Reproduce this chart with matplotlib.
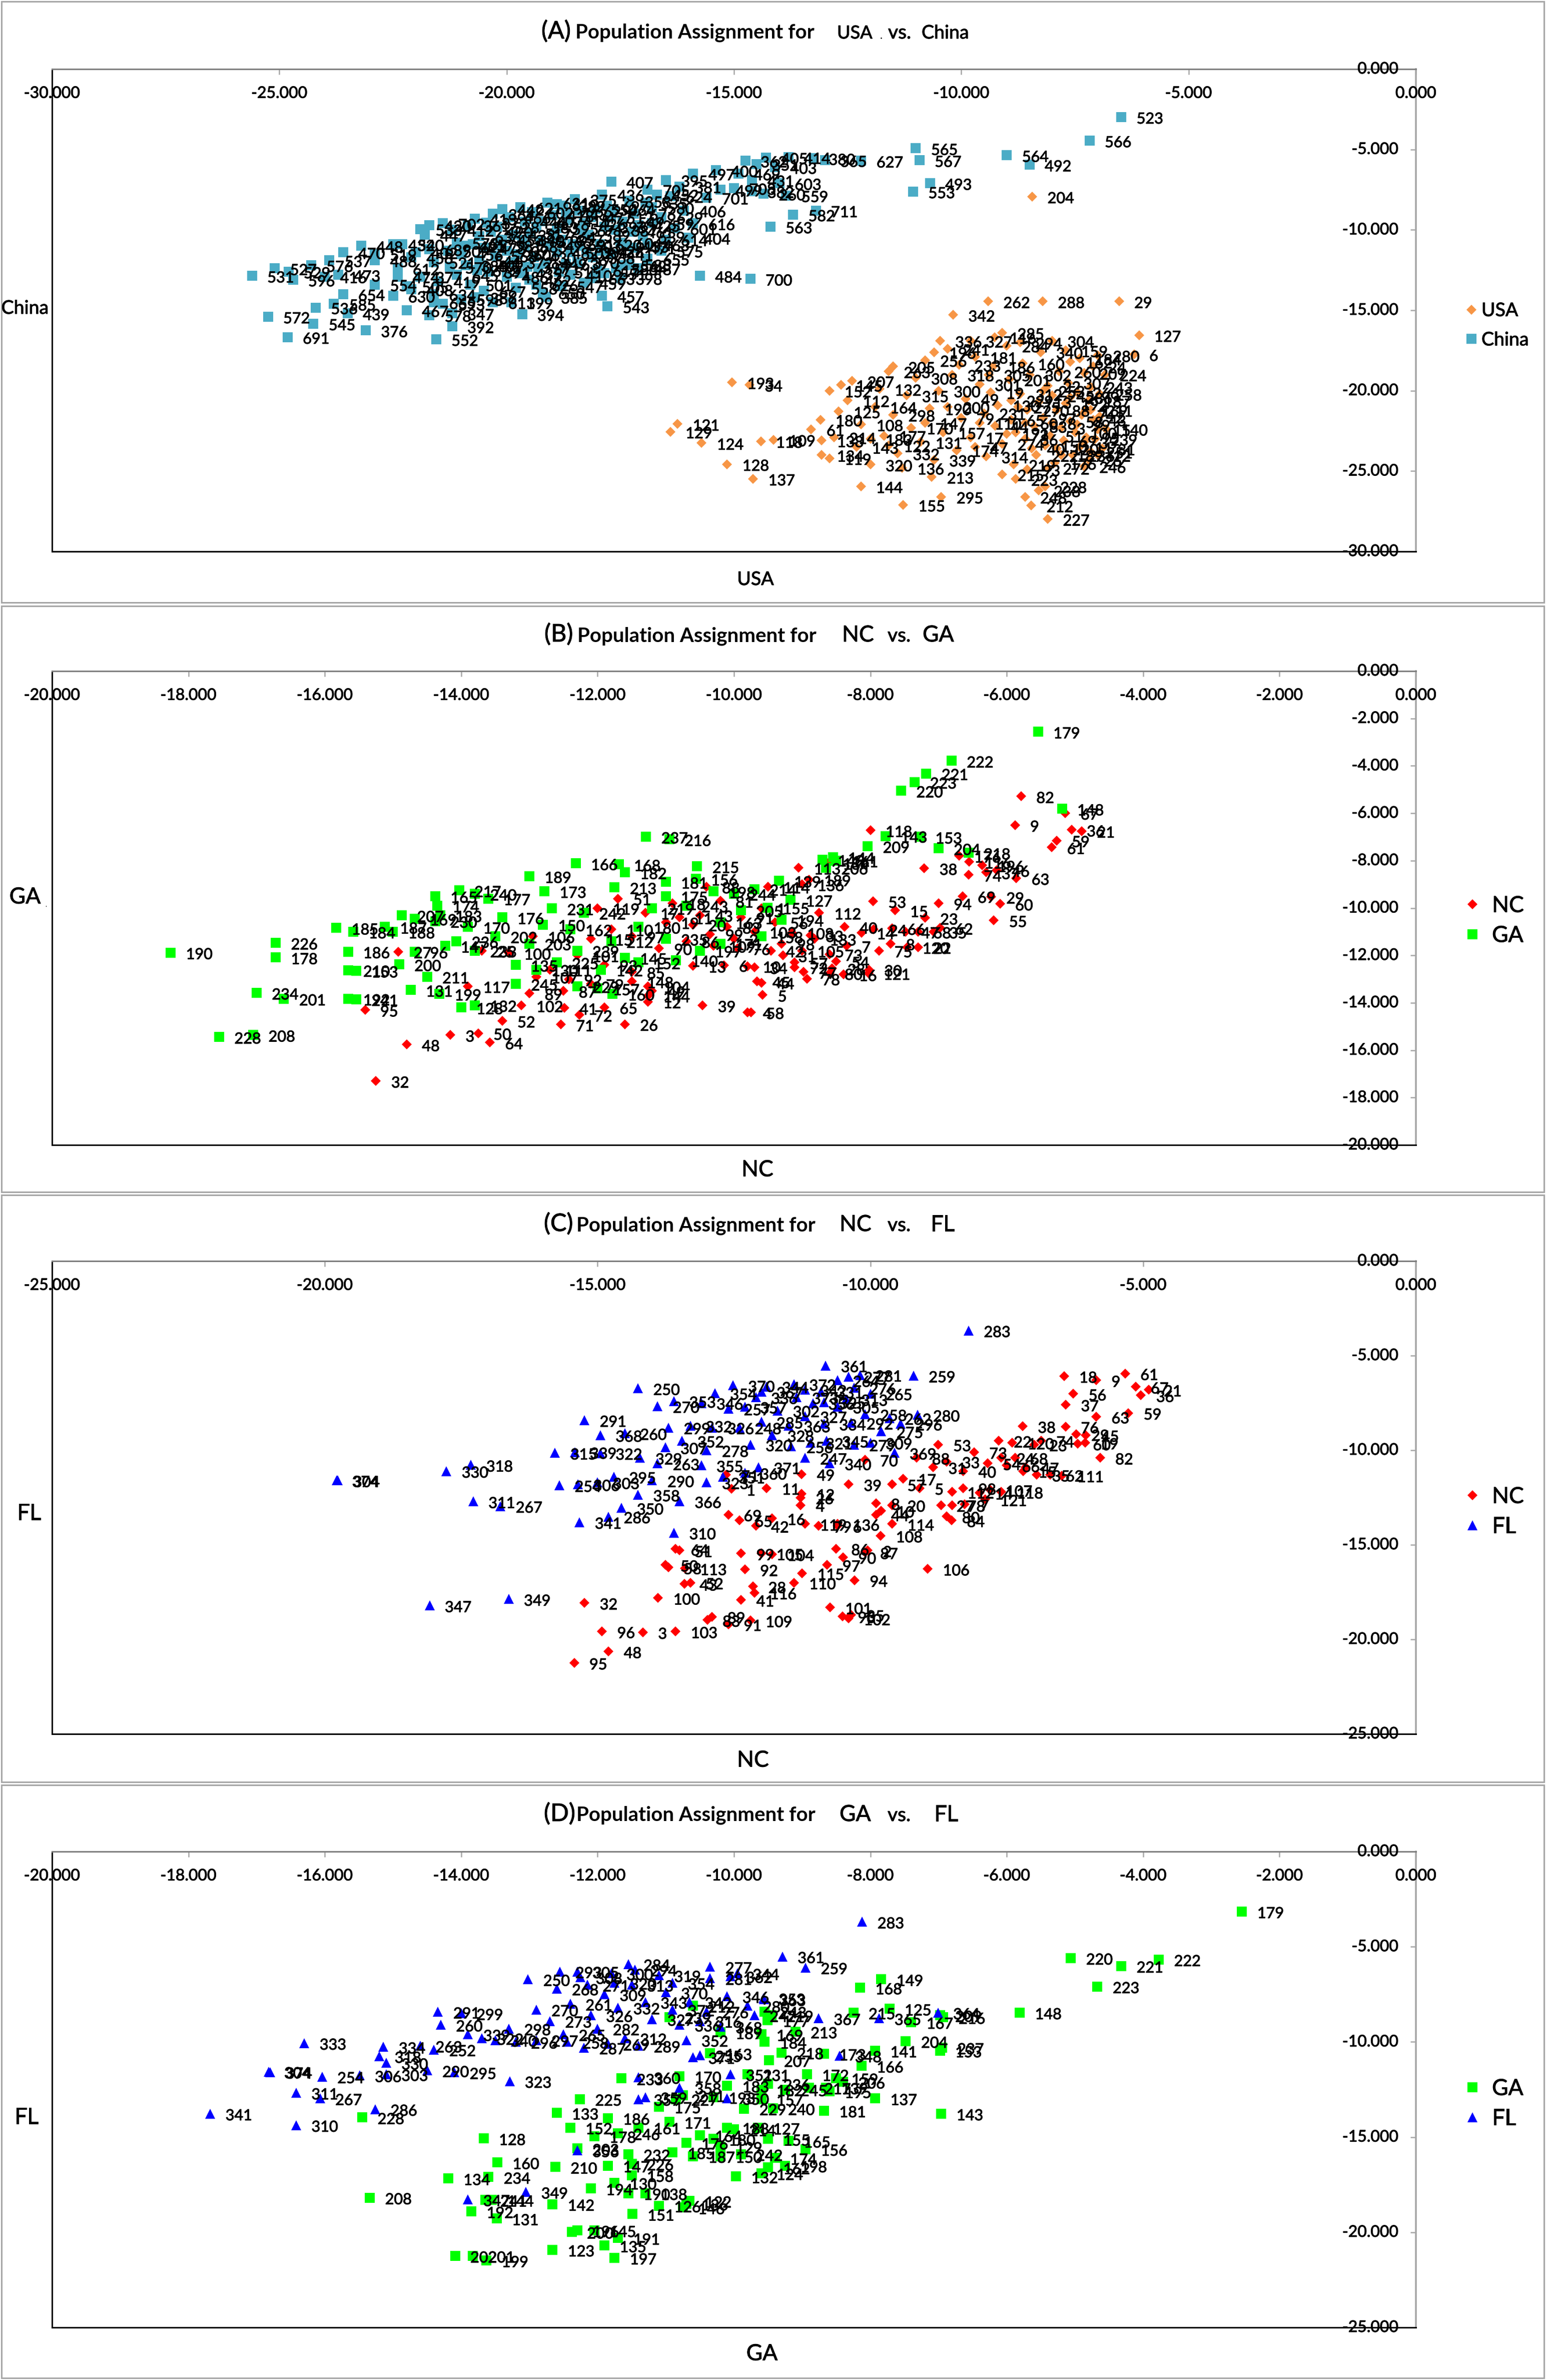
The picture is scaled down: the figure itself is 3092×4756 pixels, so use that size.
import numpy as np
import matplotlib
matplotlib.use('Agg')
import matplotlib.pyplot as plt
import matplotlib.patheffects as pe
from matplotlib.patches import Rectangle

W, H = 3092, 4756
plt.rcParams['font.family'] = ['Lato', 'DejaVu Sans']

# ---------------- data (x, y, sample id) ----------------
# (A) USA vs. China
usa_a = [
    (-8.44, -7.93, '204'), (-9.41, -14.45, '262'), (-8.21, -14.45, '288'), (-6.53, -14.45, '29'),
    (-10.18, -15.29, '342'), (-6.09, -16.55, '127'), (-6.2, -17.74, '6'), (-9.27, -16.67, '116'),
    (-10.47, -16.9, '336'), (-7.0, -17.8, '280'), (-7.4, -18.0, '184'), (-7.1, -18.5, '24'),
    (-7.15, -19.76, '243'), (-7.26, -21.19, '169'), (-6.82, -22.38, '140'), (-7.15, -23.8, '251'),
    (-7.3, -24.7, '246'), (-15.04, -19.48, '193'), (-14.66, -19.64, '34'), (-16.24, -22.07, '121'),
    (-16.4, -22.55, '129'), (-15.71, -23.26, '124'), (-15.15, -24.57, '128'), (-14.58, -25.48, '137'),
    (-14.41, -23.14, '118'), (-14.13, -23.05, '109'), (-13.07, -23.1, '138'), (-13.07, -24.0, '134'),
    (-12.9, -24.2, '119'), (-12.21, -25.95, '144'), (-11.28, -27.1, '155'), (-10.44, -26.6, '295'),
    (-10.65, -25.36, '213'), (-8.1, -27.98, '227'), (-8.46, -27.14, '212'), (-8.6, -26.6, '248'),
    (-8.16, -25.95, '228'), (-8.3, -26.2, '238'), (-12.65, -19.64, '145'), (-11.5, -18.5, '205'),
    (-13.3, -22.4, '61'), (-13.1, -21.8, '180'), (-12.8, -22.9, '214'), (-12.7, -21.3, '125'),
    (-12.5, -20.6, '112'), (-12.9, -20.0, '152'), (-12.4, -19.4, '207'), (-12.2, -22.1, '108'),
    (-12.3, -23.5, '143'), (-12.0, -24.6, '320'), (-11.9, -21.0, '164'), (-11.8, -19.9, '132'),
    (-11.7, -22.8, '177'), (-11.6, -18.8, '263'), (-11.5, -21.5, '298'), (-11.4, -23.9, '332'),
    (-11.3, -24.8, '136'), (-11.2, -20.3, '315'), (-11.1, -22.3, '170'), (-11.0, -19.2, '308'),
    (-10.9, -23.2, '131'), (-10.8, -18.1, '256'), (-10.7, -21.1, '190'), (-10.6, -24.3, '339'),
    (-10.5, -20.0, '300'), (-10.4, -22.6, '157'), (-10.3, -17.4, '241'), (-10.2, -19.0, '318'),
    (-10.1, -23.7, '174'), (-10.0, -21.7, '79'), (-10.05, -18.4, '233'),
    (-9.9, -20.5, '49'), (-9.8, -22.9, '17'), (-9.7, -17.9, '181'), (-9.6, -19.6, '301'),
    (-9.5, -21.4, '231'), (-9.45, -24.1, '314'), (-9.3, -18.5, '186'), (-9.25, -22.2, '44'),
    (-9.2, -20.9, '130'), (-9.1, -23.3, '274'), (-9.0, -17.2, '284'), (-8.95, -19.3, '201'),
    (-8.9, -21.8, '65'), (-8.85, -24.6, '219'), (-8.8, -22.6, '91'), (-8.7, -20.2, '312'),
    (-8.65, -18.3, '160'), (-8.6, -23.0, '36'), (-8.55, -21.2, '270'), (-8.5, -19.0, '302'),
    (-8.4, -22.2, '83'), (-8.35, -24.0, '222'), (-8.3, -20.7, '13'), (-8.25, -17.6, '340'),
    (-8.2, -21.7, '97'), (-8.15, -23.4, '150'), (-8.1, -19.7, '22'), (-8.05, -22.8, '51'),
    (-8.0, -20.3, '245'), (-7.95, -24.5, '176'), (-7.9, -21.2, '88'), (-7.85, -18.8, '260'),
    (-7.8, -22.3, '3'), (-7.75, -23.1, '69'), (-7.7, -20.8, '192'), (-7.65, -19.5, '307'),
    (-7.6, -21.9, '58'), (-7.55, -24.0, '236'), (-7.5, -22.6, '100'), (-7.45, -20.1, '266'),
    (-7.4, -23.5, '11'), (-7.35, -21.5, '74'), (-7.3, -18.9, '209'), (-7.25, -22.9, '95'),
    (-7.2, -20.6, '187'), (-7.1, -21.8, '43'), (-7.05, -23.0, '239'), (-7.0, -22.4, '15'),
    (-6.95, -20.2, '258'), (-6.9, -23.6, '81'), (-6.85, -19.0, '224'), (-7.6, -18.2, '162'),
    (-8.7, -17.0, '294'), (-9.1, -16.4, '285'), (-9.8, -16.9, '327'), (-10.6, -17.6, '196'),
    (-8.0, -16.9, '304'), (-7.7, -17.5, '159'), (-9.1, -25.2, '215'), (-8.8, -25.5, '223'),
    (-8.55, -24.9, '93'),
    (-9.35, -20.1, '19'), (-9.0, -22.7, '172'), (-8.75, -21.0, '275'), (-8.45, -23.6, '40'),
    (-8.2, -20.0, '253'), (-8.0, -22.0, '8'), (-7.8, -24.0, '189'), (-7.6, -20.4, '286'),
    (-7.45, -22.1, '99'), (-7.3, -23.2, '35'), (-7.15, -21.2, '211'), (-6.95, -21.6, '2'),
    (-7.9, -23.6, '120'), (-8.6, -22.0, '60'), (-8.9, -20.6, '229'), (-9.6, -22.0, '110'),
    (-9.7, -23.5, '47'), (-10.3, -21.0, '200'), (-10.8, -22.0, '147'), (-11.6, -23.4, '122'),
    (-12.0, -23.0, '183'), (-7.2, -24.3, '26'), (-7.0, -24.0, '12'), (-8.1, -24.8, '272'),
    (-9.4, -19.0, '305'),
]
china_a = [
    (-6.48, -2.98, '523'), (-7.18, -4.45, '566'), (-11.0, -4.93, '565'), (-10.92, -5.67, '567'),
    (-9.0, -5.36, '564'), (-8.5, -5.95, '492'), (-10.69, -7.1, '493'), (-11.06, -7.62, '553'),
    (-12.2, -5.71, '627'), (-13.0, -5.67, '365'), (-13.25, -5.55, '380'), (-13.8, -5.48, '414'),
    (-14.3, -5.5, '405'), (-14.1, -6.1, '403'), (-14.0, -7.1, '603'), (-13.85, -7.86, '559'),
    (-13.7, -9.05, '582'), (-13.2, -8.8, '711'), (-14.2, -9.8, '563'), (-14.64, -13.05, '700'),
    (-15.75, -12.86, '484'),
    (-14.75, -5.7, '362'), (-14.5, -5.9, '351'), (-15.4, -6.3, '400'), (-14.9, -6.5, '469'),
    (-14.6, -6.9, '431'), (-15.0, -7.4, '708'), (-14.6, -7.6, '382'), (-14.35, -7.75, '260'),
    (-15.3, -7.5, '499'), (-15.9, -6.5, '497'), (-16.5, -6.9, '395'), (-16.2, -7.3, '381'),
    (-17.7, -7.0, '407'), (-16.9, -7.5, '705'), (-16.4, -7.9, '624'), (-15.6, -8.0, '701'),
    (-16.1, -8.8, '406'), (-16.6, -9.2, '629'), (-15.9, -9.6, '616'), (-16.3, -9.9, '601'),
    (-16.8, -9.6, '659'), (-16.0, -10.5, '404'), (-16.5, -10.6, '614'), (-16.9, -10.9, '463'),
    (-25.6, -12.86, '531'), (-25.25, -15.4, '572'), (-24.82, -16.67, '691'), (-24.25, -15.83, '545'),
    (-24.2, -14.83, '536'), (-23.1, -16.26, '376'), (-21.55, -16.8, '552'), (-21.2, -16.0, '392'),
    (-21.2, -15.2, '347'), (-23.2, -11.0, '448'), (-22.9, -11.5, '519'), (-23.6, -11.4, '470'),
    (-23.9, -11.9, '537'), (-24.8, -12.6, '529'), (-24.3, -12.2, '576'), (-24.0, -12.9, '416'),
    (-23.7, -12.8, '473'), (-23.6, -14.0, '654'), (-23.8, -14.6, '585'), (-23.5, -15.2, '439'),
    (-22.2, -15.0, '467'), (-21.7, -15.3, '578'), (-22.5, -14.1, '630'), (-22.9, -13.4, '554'),
    (-22.4, -12.9, '474'), (-22.9, -11.9, '488'), (-22.0, -11.4, '402'), (-21.9, -9.95, '533'),
    (-21.7, -9.7, '420'), (-22.5, -10.9, '432'), (-22.1, -13.7, '408'), (-21.4, -14.6, '593'),
    (-21.6, -14.5, '665'), (-20.7, -14.2, '386'), (-20.3, -14.5, '611'), (-25.1, -12.4, '527'),
    (-24.7, -13.1, '596'),
    (-22.3, -10.9, '540'), (-22.1, -11.7, '458'), (-22.4, -12.4, '612'), (-21.9, -12.9, '377'),
    (-22.2, -13.5, '505'), (-21.8, -10.3, '447'), (-21.7, -11.2, '689'), (-21.6, -12.0, '521'),
    (-21.5, -13.2, '419'), (-21.6, -14.0, '634'), (-21.4, -9.6, '702'),
    (-21.2, -10.0, '412'), (-21.1, -10.8, '573'), (-21.0, -11.5, '456'), (-20.9, -12.2, '388'),
    (-21.1, -12.8, '645'), (-20.8, -13.4, '501'), (-21.0, -14.3, '598'), (-20.7, -9.3, '413'),
    (-20.6, -10.4, '636'), (-20.5, -11.1, '478'), (-20.6, -11.9, '544'), (-20.4, -12.6, '391'),
    (-20.5, -13.8, '667'), (-20.3, -9.0, '364'), (-20.2, -9.8, '528'),
    (-20.1, -10.6, '453'), (-20.0, -11.3, '609'), (-19.9, -12.0, '372'), (-20.0, -12.9, '486'),
    (-19.8, -13.6, '558'), (-19.9, -14.5, '399'), (-19.7, -8.6, '621'), (-19.6, -9.5, '444'),
    (-19.5, -10.2, '517'), (-19.6, -11.0, '683'), (-19.4, -11.7, '430'), (-19.3, -12.4, '571'),
    (-19.5, -13.1, '462'), (-19.2, -13.9, '650'), (-19.1, -8.3, '631'), (-19.0, -9.1, '418'),
    (-18.9, -9.9, '595'), (-18.8, -10.6, '357'), (-18.9, -11.4, '482'), (-18.7, -12.1, '639'),
    (-18.6, -12.8, '410'), (-18.8, -13.5, '547'), (-18.5, -8.1, '375'), (-18.4, -8.8, '662'),
    (-18.3, -9.6, '426'), (-18.2, -10.3, '589'), (-18.4, -11.0, '503'), (-18.1, -11.7, '368'),
    (-18.0, -12.5, '617'), (-18.3, -13.3, '459'), (-17.9, -7.8, '436'), (-17.8, -8.5, '697'),
    (-17.7, -9.2, '512'), (-17.6, -10.0, '387'), (-17.5, -10.8, '604'), (-17.7, -11.5, '441'),
    (-17.4, -12.2, '562'), (-17.3, -8.2, '358'), (-17.2, -9.0, '676'), (-17.1, -9.7, '425'),
    (-17.0, -10.4, '539'), (-17.2, -11.1, '471'), (-16.9, -11.8, '655'), (-17.5, -13.0, '398'),
    (-16.8, -8.6, '580'), (-17.9, -14.1, '457'),
    (-17.3, -12.14, '583'), (-17.85, -12.7, '551'), (-19.14, -14.17, '385'), (-19.66, -15.24, '394'),
    (-17.78, -14.76, '543'),
    (-20.85, -9.7, '361'), (-20.35, -10.1, '490'), (-20.25, -11.6, '568'), (-19.85, -10.3, '438'),
    (-19.75, -11.5, '606'), (-19.35, -9.8, '383'), (-19.25, -10.7, '526'), (-19.15, -12.1, '449'),
    (-18.95, -10.4, '664'), (-18.65, -9.4, '415'), (-18.55, -10.9, '591'), (-18.45, -12.0, '370'),
    (-18.15, -9.2, '477'), (-17.95, -10.9, '620'), (-17.85, -9.8, '396'), (-17.45, -9.5, '549'),
    (-17.35, -11.0, '433'), (-20.65, -12.5, '672'), (-21.3, -11.3, '509'), (-20.95, -11.0, '421'),
    (-19.45, -8.9, '602'), (-18.75, -8.5, '389'), (-17.65, -8.7, '464'), (-16.95, -8.3, '535'),
    (-16.7, -7.8, '452'),
    (-20.45, -9.55, '373'), (-20.15, -10.95, '581'), (-19.95, -9.2, '466'), (-19.65, -10.6, '640'),
    (-19.55, -12.3, '397'), (-19.25, -9.45, '607'), (-19.05, -11.0, '479'), (-18.85, -12.6, '515'),
    (-18.7, -9.0, '443'), (-18.35, -10.0, '671'), (-18.25, -11.35, '384'), (-18.05, -8.7, '550'),
    (-17.9, -11.3, '428'), (-17.6, -12.4, '586'), (-17.25, -10.1, '461'), (-20.75, -10.9, '657'),
    (-20.55, -12.2, '409'), (-21.25, -12.3, '570'), (-19.7, -12.7, '435'), (-19.35, -13.4, '626'),
    (-18.6, -11.4, '502'), (-18.1, -13.0, '663'), (-17.1, -12.4, '487'), (-16.6, -11.3, '575'),
    (-20.1, -8.7, '442'), (-18.9, -8.4, '619'),
]

# (B) NC vs. GA
nc_b = [
    (-5.79, -5.29, '82'), (-5.88, -6.5, '9'), (-5.14, -5.99, '67'), (-5.05, -6.7, '36'),
    (-4.9, -6.75, '21'), (-5.27, -7.15, '59'), (-5.34, -7.44, '61'), (-7.21, -8.32, '38'),
    (-6.23, -9.53, '29'), (-6.1, -9.82, '60'), (-6.19, -10.52, '55'), (-5.86, -8.74, '63'),
    (-6.15, -8.4, '46'), (-6.3, -8.5, '37'), (-6.36, -8.2, '196'), (-6.55, -8.05, '116'),
    (-6.7, -7.8, '176'), (-6.56, -8.6, '74'), (-7.96, -9.71, '53'), (-7.64, -10.1, '15'),
    (-7.2, -10.42, '23'), (-6.65, -9.5, '69'), (-7.0, -9.8, '94'), (-6.98, -10.84, '62'),
    (-7.07, -11.0, '35'), (-8.13, -11.04, '14'), (-7.95, -10.9, '24'), (-7.68, -10.85, '66'),
    (-7.48, -11.0, '47'), (-7.3, -11.0, '68'), (-7.46, -11.65, '120'), (-7.3, -11.65, '22'),
    (-7.7, -11.5, '8'), (-7.87, -11.8, '75'), (-8.35, -11.6, '7'), (-8.38, -10.8, '40'),
    (-8.6, -11.95, '73'), (-8.5, -12.25, '54'), (-8.02, -12.6, '30'), (-8.03, -12.75, '121'),
    (-8.39, -12.8, '16'), (-8.6, -12.75, '80'), (-8.56, -12.55, '28'), (-8.93, -12.98, '78'),
    (-8.98, -12.7, '77'), (-9.11, -12.5, '72'), (-9.11, -12.3, '57'), (-9.28, -12.0, '31'),
    (-9.46, -11.8, '42'), (-9.58, -13.67, '5'), (-9.66, -13.1, '45'), (-9.75, -14.4, '58'),
    (-8.82, -11.3, '133'), (-9.15, -11.04, '108'), (-8.88, -11.15, '33'), (-8.9, -8.8, '189'),
    (-9.0, -9.0, '136'), (-9.05, -8.3, '113'), (-8.0, -6.72, '118'), (-8.63, -8.1, '134'),
    (-15.25, -17.3, '32'), (-14.8, -15.76, '48'), (-14.16, -15.36, '3'), (-13.75, -15.28, '50'),
    (-13.58, -15.68, '64'), (-13.4, -14.76, '52'), (-13.12, -14.11, '102'), (-12.49, -14.22, '41'),
    (-12.27, -14.51, '72'), (-12.54, -14.92, '71'), (-11.9, -14.19, '65'), (-11.26, -13.95, '12'),
    (-10.46, -14.11, '39'), (-15.41, -14.3, '95'), (-14.92, -11.84, '27'), (-12.42, -13.01, '92'),
    (-11.26, -13.3, '104'), (-11.2, -13.5, '49'), (-11.26, -13.7, '144'), (-11.5, -13.1, '148'),
    (-10.6, -12.44, '13'), (-10.15, -12.41, '6'), (-9.8, -12.45, '10'), (-9.7, -12.5, '34'),
    (-9.6, -13.15, '44'), (-9.8, -14.4, '4'), (-11.6, -14.9, '26'),
    (-11.3, -10.2, '17'), (-11.0, -10.6, '19'), (-10.8, -10.4, '11'), (-10.6, -10.7, '20'),
    (-10.5, -10.3, '43'), (-10.35, -11.1, '99'), (-10.1, -10.8, '83'), (-10.0, -11.3, '2'),
    (-9.95, -11.7, '76'), (-10.3, -11.6, '109'), (-10.7, -11.4, '86'), (-11.1, -11.7, '90'),
    (-11.5, -11.2, '97'), (-11.8, -10.9, '110'), (-12.1, -11.3, '115'), (-12.3, -12.0, '101'),
    (-11.9, -12.4, '93'), (-11.5, -12.7, '85'), (-9.7, -11.0, '103'), (-9.9, -10.4, '91'),
    (-12.7, -12.6, '111'), (-13.3, -11.9, '100'), (-13.7, -11.8, '25'), (-12.95, -11.2, '106'),
    (-12.0, -10.0, '119'), (-11.7, -9.6, '51'), (-10.9, -9.8, '18'), (-10.2, -9.7, '81'),
    (-9.6, -10.0, '1'), (-9.4, -10.6, '56'), (-9.3, -11.5, '98'), (-9.0, -11.8, '105'),
    (-8.75, -10.2, '112'), (-9.5, -9.1, '114'), (-10.4, -9.1, '88'), (-12.5, -13.5, '87'),
    (-12.1, -13.2, '79'), (-13.0, -13.6, '89'), (-12.9, -12.9, '107'), (-13.9, -13.3, '117'),
]
ga_b = [
    (-18.26, -11.88, '190'), (-16.72, -11.47, '226'), (-16.72, -12.09, '178'), (-17.0, -13.58, '234'),
    (-16.6, -13.83, '201'), (-17.55, -15.44, '228'), (-17.05, -15.36, '208'), (-15.66, -11.84, '186'),
    (-15.66, -12.62, '210'), (-15.54, -12.65, '153'), (-15.66, -13.83, '192'), (-15.54, -13.85, '241'),
    (-15.83, -10.84, '185'), (-15.58, -11.0, '184'), (-15.12, -10.8, '187'), (-14.87, -10.31, '207'),
    (-14.68, -10.45, '169'), (-14.91, -12.38, '200'), (-14.74, -13.46, '131'), (-14.32, -13.62, '199'),
    (-14.0, -14.2, '128'), (-13.8, -14.1, '132'), (-14.68, -11.84, '96'), (-14.23, -11.6, '147'),
    (-14.07, -11.4, '236'), (-14.38, -10.55, '230'), (-14.31, -10.31, '183'), (-14.38, -9.5, '165'),
    (-14.03, -9.26, '217'), (-14.35, -9.9, '174'), (-13.8, -9.4, '240'), (-13.6, -9.6, '177'),
    (-13.0, -8.66, '189'), (-12.78, -9.29, '173'), (-12.32, -8.12, '166'), (-11.69, -8.16, '168'),
    (-11.6, -8.5, '182'), (-11.29, -6.99, '237'), (-10.95, -7.1, '216'), (-10.54, -8.24, '215'),
    (-11.0, -8.9, '181'), (-10.56, -8.77, '156'), (-11.75, -9.13, '213'), (-12.67, -10.02, '231'),
    (-12.2, -10.2, '242'), (-12.8, -10.7, '150'), (-13.0, -11.5, '203'), (-11.78, -13.62, '160'),
    (-12.0, -13.4, '157'), (-11.95, -12.6, '142'), (-11.4, -12.3, '152'),
    (-5.54, -2.56, '179'), (-6.81, -3.79, '222'), (-7.18, -4.32, '221'), (-7.35, -4.68, '223'),
    (-7.55, -5.05, '220'), (-5.19, -5.81, '148'), (-7.78, -6.96, '143'), (-7.27, -7.0, '153'),
    (-7.0, -7.48, '204'), (-8.04, -7.39, '209'), (-6.56, -7.67, '218'), (-9.17, -9.66, '127'),
    (-9.51, -9.98, '155'), (-9.34, -8.85, '139'), (-8.7, -7.96, '149'), (-8.55, -7.85, '144'),
    (-8.65, -8.3, '206'), (-8.5, -8.0, '161'),
    (-10.3, -9.3, '198'), (-10.0, -9.4, '244'), (-9.7, -9.2, '214'), (-9.9, -10.1, '205'),
    (-10.2, -10.6, '163'), (-10.7, -9.9, '243'), (-11.2, -10.0, '219'), (-11.4, -10.8, '180'),
    (-11.0, -11.3, '235'), (-10.5, -11.8, '197'), (-10.2, -11.5, '171'), (-11.8, -11.4, '212'),
    (-12.3, -11.8, '239'), (-12.6, -12.3, '225'), (-13.2, -12.4, '135'), (-13.5, -11.2, '202'),
    (-13.8, -11.8, '233'), (-13.4, -10.4, '176'), (-13.9, -10.8, '170'), (-12.9, -12.6, '130'),
    (-11.6, -12.1, '145'), (-12.4, -10.9, '162'), (-11.0, -9.5, '175'), (-10.85, -12.2, '140'),
    (-9.3, -10.5, '194'), (-9.6, -11.2, '158'), (-15.0, -11.0, '188'), (-14.5, -12.9, '211'),
    (-13.2, -13.2, '245'), (-12.3, -13.3, '229'),
]

# (C) NC vs. FL
nc_c = [
    (-6.45, -6.08, '18'), (-5.33, -5.94, '61'), (-6.28, -7.02, '56'), (-5.86, -6.3, '9'),
    (-5.14, -6.65, '67'), (-4.9, -6.8, '21'), (-5.04, -7.1, '36'), (-6.42, -7.59, '37'),
    (-5.86, -8.23, '63'), (-5.27, -8.03, '59'), (-5.79, -10.4, '82'), (-7.21, -8.73, '38'),
    (-6.42, -8.75, '76'), (-6.23, -9.15, '29'), (-6.05, -9.2, '45'), (-6.2, -9.65, '60'),
    (-6.06, -9.6, '19'), (-6.87, -9.5, '74'), (-7.0, -9.7, '23'), (-7.4, -9.6, '120'),
    (-7.65, -9.5, '22'), (-6.49, -11.34, '111'), (-6.7, -11.3, '62'), (-6.95, -11.3, '35'),
    (-7.2, -11.1, '15'), (-8.1, -10.1, '73'), (-8.3, -11.1, '40'), (-7.85, -10.7, '54'),
    (-7.5, -10.8, '66'), (-7.6, -10.4, '24'), (-7.35, -10.4, '68'), (-7.15, -10.9, '47'),
    (-8.6, -10.6, '33'), (-8.85, -10.9, '31'), (-9.15, -10.4, '88'), (-8.76, -9.7, '53'),
    (-8.0, -12.25, '14'), (-7.8, -12.1, '107'), (-7.6, -12.2, '118'), (-8.3, -12.0, '98'),
    (-8.5, -12.2, '112'), (-8.5, -12.9, '78'), (-8.7, -12.9, '27'), (-8.27, -12.85, '7'),
    (-7.9, -12.6, '121'), (-8.51, -13.71, '84'), (-8.6, -13.5, '80'), (-9.81, -14.52, '108'),
    (-8.95, -16.27, '106'), (-10.29, -16.87, '94'), (-10.79, -16.06, '97'), (-10.5, -15.65, '90'),
    (-10.1, -15.4, '87'), (-10.63, -15.2, '86'), (-10.05, -15.3, '2'), (-10.74, -18.31, '101'),
    (-10.51, -18.78, '93'), (-10.35, -18.7, '85'), (-10.4, -18.9, '102'), (-11.25, -16.5, '115'),
    (-11.4, -17.0, '110'), (-12.12, -17.53, '116'), (-12.0, -15.46, '105'), (-11.8, -15.5, '104'),
    (-12.3, -16.3, '92'), (-12.37, -15.46, '99'),
    (-11.26, -11.26, '49'), (-11.26, -12.3, '12'), (-11.28, -12.5, '26'), (-11.28, -12.9, '4'),
    (-11.9, -12.0, '11'), (-11.2, -13.9, '119'), (-10.95, -14.0, '79'), (-10.6, -13.9, '136'),
    (-10.6, -14.0, '6'), (-10.4, -11.8, '39'), (-10.1, -10.5, '70'), (-9.9, -12.8, '8'),
    (-9.6, -12.9, '20'), (-9.8, -13.2, '10'), (-9.6, -13.9, '114'), (-9.9, -13.4, '44'),
    (-9.1, -12.0, '5'), (-9.4, -11.5, '17'), (-9.6, -11.8, '57'), (-12.65, -11.3, '71'),
    (-12.4, -13.7, '65'), (-12.6, -13.4, '69'), (-11.8, -13.6, '16'), (-12.1, -14.0, '42'),
    (-12.55, -12.05, '1'),
    (-15.43, -21.24, '95'), (-14.8, -20.64, '48'), (-14.92, -19.58, '96'), (-14.17, -19.62, '3'),
    (-13.57, -19.58, '103'), (-15.24, -18.07, '32'), (-13.89, -17.81, '100'), (-12.37, -17.91, '41'),
    (-12.99, -18.98, '83'), (-12.9, -18.8, '89'), (-12.6, -19.2, '91'), (-12.2, -19.0, '109'),
    (-13.41, -17.07, '43'), (-13.3, -17.0, '52'), (-13.76, -16.06, '50'), (-13.7, -16.2, '58'),
    (-13.4, -16.25, '113'), (-13.57, -15.22, '64'), (-13.5, -15.3, '51'), (-12.15, -17.2, '28'),
]
fl_c = [
    (-19.78, -11.59, '374'), (-19.76, -11.6, '304'), (-17.77, -11.1, '330'), (-17.32, -10.78, '318'),
    (-17.28, -12.71, '311'), (-16.78, -12.95, '267'), (-18.08, -18.21, '347'), (-16.63, -17.87, '349'),
    (-15.33, -13.8, '341'), (-14.8, -13.51, '286'), (-13.6, -14.36, '310'), (-14.56, -13.05, '350'),
    (-15.24, -8.41, '291'), (-14.26, -6.73, '250'), (-15.78, -10.14, '315'), (-15.42, -10.1, '339'),
    (-15.7, -11.85, '254'), (-15.36, -11.8, '306'), (-15.0, -11.7, '303'), (-14.7, -11.4, '295'),
    (-14.0, -11.6, '290'), (-14.26, -12.35, '358'), (-13.5, -12.7, '366'), (-13.0, -11.7, '323'),
    (-13.1, -10.8, '355'), (-13.9, -10.7, '263'), (-14.95, -9.2, '368'), (-14.5, -9.1, '260'),
    (-13.9, -7.67, '270'), (-13.6, -7.4, '353'), (-13.1, -7.5, '346'), (-12.52, -6.57, '370'),
    (-12.85, -6.98, '354'), (-14.95, -10.15, '322'), (-14.22, -10.4, '329'), (-13.76, -9.85, '307'),
    (-13.45, -9.5, '352'), (-13.0, -10.0, '278'), (-13.7, -8.8, '299'), (-13.3, -8.7, '332'),
    (-12.9, -8.8, '326'), (-12.4, -8.8, '248'), (-12.0, -8.5, '285'), (-12.3, -7.7, '357'),
    (-12.6, -7.8, '257'), (-12.1, -7.2, '336'), (-12.2, -9.7, '320'), (-12.05, -10.9, '371'),
    (-12.3, -11.2, '360'), (-12.7, -11.4, '351'),
    (-10.82, -5.52, '361'), (-8.2, -3.67, '283'), (-9.21, -6.06, '259'), (-10.19, -6.02, '281'),
    (-10.4, -6.1, '277'), (-10.6, -6.3, '264'), (-9.13, -8.13, '280'), (-10.0, -7.0, '265'),
    (-10.3, -6.7, '276'), (-9.56, -10.14, '369'), (-10.3, -9.7, '279'), (-10.0, -9.6, '309'),
    (-11.9, -6.63, '344'), (-11.4, -6.5, '372'), (-11.2, -6.8, '342'), (-10.9, -6.9, '331'),
    (-11.35, -7.2, '373'), (-11.05, -7.5, '356'), (-10.85, -7.45, '325'), (-10.6, -7.7, '305'),
    (-10.45, -7.3, '313'), (-10.1, -8.1, '258'), (-9.65, -8.3, '262'), (-9.45, -8.6, '296'),
    (-9.8, -9.0, '275'), (-10.35, -8.55, '292'), (-10.85, -8.6, '334'), (-11.2, -8.2, '327'),
    (-11.5, -8.7, '363'), (-11.8, -9.2, '328'), (-11.45, -9.8, '256'), (-11.1, -9.6, '321'),
    (-11.2, -10.4, '247'), (-10.75, -10.7, '340'), (-10.8, -9.5, '345'), (-11.7, -7.9, '302'),
    (-12.0, -6.9, '367'),
]

# (D) GA vs. FL
ga_d = [
    (-2.55, -3.15, '179'), (-5.06, -5.59, '220'), (-4.32, -6.01, '221'), (-3.77, -5.67, '222'),
    (-4.67, -7.09, '223'), (-5.81, -8.46, '148'), (-7.84, -6.71, '149'), (-8.15, -7.15, '168'),
    (-7.72, -8.26, '125'), (-8.25, -8.46, '215'), (-7.4, -8.96, '167'), (-6.98, -8.6, '209'),
    (-6.93, -8.7, '216'), (-9.1, -9.46, '213'), (-9.51, -8.86, '177'), (-9.55, -8.4, '243'),
    (-9.45, -8.6, '219'), (-7.48, -9.96, '204'), (-6.98, -10.46, '153'), (-6.95, -10.3, '237'),
    (-7.93, -10.46, '141'), (-8.13, -11.26, '166'), (-8.68, -10.62, '173'), (-9.3, -10.56, '218'),
    (-9.49, -10.96, '207'), (-8.93, -11.7, '172'), (-8.5, -11.9, '159'), (-8.4, -12.1, '206'),
    (-8.65, -12.4, '139'), (-8.6, -12.6, '195'), (-8.9, -12.4, '217'), (-9.25, -12.5, '245'),
    (-9.6, -12.5, '182'), (-7.93, -12.97, '137'), (-8.68, -13.61, '181'), (-9.43, -13.49, '240'),
    (-6.96, -13.77, '143'), (-9.65, -14.51, '127'), (-9.5, -15.1, '155'), (-8.95, -15.63, '156'),
    (-9.2, -15.2, '165'), (-9.5, -16.6, '162'), (-9.4, -16.1, '174'), (-9.25, -16.5, '198'),
    (-15.34, -18.18, '208'), (-14.09, -21.24, '202'), (-13.83, -21.24, '201'), (-13.63, -21.48, '199'),
    (-12.66, -20.92, '123'), (-11.75, -21.34, '197'), (-11.9, -20.7, '135'), (-11.7, -20.3, '191'),
    (-12.38, -19.98, '200'), (-12.3, -19.9, '196'), (-12.05, -19.9, '145'), (-12.66, -18.52, '142'),
    (-13.48, -19.28, '131'), (-13.85, -18.9, '192'), (-13.65, -18.3, '241'), (-13.55, -18.3, '144'),
    (-14.19, -17.17, '134'), (-13.6, -17.1, '234'), (-13.47, -16.33, '160'), (-13.67, -15.07, '128'),
    (-15.45, -13.97, '228'), (-12.62, -16.57, '210'), (-12.6, -13.73, '133'), (-12.26, -13.0, '225'),
    (-11.65, -11.92, '233'), (-12.4, -14.5, '152'), (-12.3, -15.6, '203'), (-11.85, -14.0, '186'),
    (-12.05, -14.95, '178'), (-11.7, -14.8, '246'), (-11.4, -14.5, '161'), (-11.55, -15.9, '232'),
    (-11.85, -16.5, '147'), (-11.5, -16.4, '226'), (-11.55, -17.95, '190'), (-11.3, -17.95, '138'),
    (-12.1, -17.7, '194'), (-11.75, -17.4, '130'), (-11.5, -17.0, '158'), (-11.49, -19.04, '151'),
    (-11.1, -18.6, '126'), (-10.7, -18.5, '136'), (-10.65, -18.35, '122'), (-10.75, -18.7, '146'),
    (-9.97, -17.07, '132'), (-9.6, -16.9, '124'),
    (-10.95, -14.2, '171'), (-10.5, -14.9, '164'), (-10.3, -15.1, '180'), (-10.1, -14.5, '188'),
    (-10.0, -14.6, '214'), (-10.7, -15.3, '176'), (-10.9, -15.8, '185'), (-10.6, -16.0, '187'),
    (-10.2, -16.0, '150'), (-9.9, -15.9, '242'), (-10.2, -15.5, '129'), (-10.8, -11.8, '170'),
    (-10.75, -12.8, '211'), (-10.85, -13.0, '227'), (-9.8, -11.7, '231'), (-9.5, -12.2, '236'),
    (-9.6, -13.0, '157'), (-10.3, -12.9, '193'), (-9.55, -10.0, '184'), (-9.6, -9.6, '169'),
    (-10.2, -9.5, '189'), (-10.6, -8.1, '212'), (-10.95, -8.7, '239'), (-10.35, -10.6, '163'),
    (-9.85, -13.5, '229'), (-10.1, -12.3, '183'), (-11.1, -13.4, '175'),
]
fl_d = [
    (-17.68, -13.77, '341'), (-16.42, -14.37, '310'), (-16.42, -12.67, '311'), (-16.07, -12.97, '267'),
    (-16.82, -11.56, '304'), (-16.8, -11.58, '374'), (-16.3, -10.06, '333'), (-16.04, -11.82, '254'),
    (-15.49, -11.76, '306'), (-15.1, -11.7, '303'), (-15.26, -13.53, '286'), (-15.14, -10.26, '334'),
    (-15.2, -10.75, '318'), (-15.1, -11.1, '330'), (-14.1, -11.6, '295'), (-14.5, -11.5, '290'),
    (-14.34, -8.42, '291'), (-14.0, -8.5, '299'), (-14.3, -9.1, '260'), (-13.9, -9.6, '339'),
    (-13.7, -9.8, '322'), (-14.6, -10.2, '263'), (-14.4, -10.4, '252'), (-13.5, -9.9, '340'),
    (-13.2, -10.0, '296'), (-13.29, -12.06, '323'), (-13.02, -6.71, '250'), (-12.6, -7.2, '268'),
    (-12.3, -6.3, '305'), (-12.25, -6.6, '308'), (-11.8, -6.4, '300'), (-11.55, -5.91, '284'),
    (-10.35, -6.05, '277'), (-10.35, -6.65, '281'), (-10.05, -6.55, '362'), (-9.95, -6.4, '344'),
    (-10.1, -7.6, '346'), (-9.57, -7.7, '353'), (-10.2, -9.2, '368'), (-10.7, -9.9, '352'),
    (-11.4, -10.2, '289'), (-10.6, -10.8, '371'), (-10.5, -10.7, '255'), (-10.05, -11.7, '351'),
    (-10.1, -12.95, '350'), (-11.4, -13.0, '357'), (-11.3, -12.9, '359'), (-10.8, -12.4, '358'),
    (-9.29, -5.51, '361'), (-8.95, -6.09, '259'), (-8.12, -3.69, '283'), (-9.56, -7.76, '363'),
    (-8.76, -8.76, '367'), (-7.01, -8.46, '364'), (-8.45, -10.72, '348'), (-7.87, -8.76, '365'),
    (-13.9, -18.28, '347'), (-13.05, -17.88, '349'), (-12.3, -15.7, '356'), (-11.4, -11.85, '360'),
    (-12.9, -8.3, '270'), (-12.7, -8.9, '273'), (-12.5, -9.6, '265'), (-12.4, -8.0, '261'),
    (-12.1, -8.6, '326'), (-12.0, -9.3, '282'), (-11.9, -7.5, '309'), (-11.7, -8.2, '332'),
    (-11.6, -9.8, '312'), (-11.5, -7.0, '313'), (-11.3, -7.9, '343'), (-11.2, -8.8, '327'),
    (-11.0, -7.4, '370'), (-10.9, -8.3, '372'), (-10.8, -9.1, '336'), (-10.65, -7.9, '342'),
    (-10.5, -8.9, '316'), (-11.75, -6.9, '320'), (-12.15, -7.0, '271'), (-11.1, -6.5, '319'),
    (-12.45, -10.0, '258'), (-13.3, -9.3, '298'), (-12.9, -9.9, '297'), (-11.85, -10.1, '269'),
    (-12.2, -10.3, '287'), (-10.9, -6.9, '354'), (-10.4, -8.4, '276'), (-9.8, -8.1, '280'),
    (-9.7, -8.6, '247'), (-11.45, -6.2, '294'), (-12.55, -6.3, '293'),
]

ORANGE, AQUA = '#F79646', '#4BACC6'
RED, GREEN, BLUE = '#FF0000', '#00FF00', '#0000FF'
GRAY = '#A6A6A6'
INK = [pe.withStroke(linewidth=0.7, foreground='black')]

fig = plt.figure(figsize=(W / 100, H / 100), dpi=100)
fig.patch.set_facecolor('white')


def fx(px):
    return px / W


def fy(py):
    return 1 - py / H


def draw_panel(top, bottom, xlo, xstep, ylo, ystep, series, leg_y, leg_fs, leg_pad, leg_space):
    ax = fig.add_axes([fx(104), fy(bottom), fx(2830) - fx(104), (bottom - top) / H])
    ax.set_xlim(xlo, 0)
    ax.set_ylim(ylo, 0)
    ax.set_facecolor('none')

    handles = []
    for pts, name, marker, color, ms in series:
        xs, ys, ids = zip(*pts)
        h, = ax.plot(xs, ys, linestyle='none', marker=marker, color=color,
                     markersize=ms, markeredgewidth=0, label=name, zorder=2)
        handles.append(h)
    # data labels sit to the right of each point, over all markers
    for pts, name, marker, color, ms in series:
        for x, y, s in pts:
            ax.annotate(s, (x, y), xytext=(22, -3), textcoords='offset points',
                        ha='left', va='center', fontsize=22, zorder=3, path_effects=INK)

    # Excel style: x axis crosses at y=0 (top), y axis at x=0 (right)
    xt = np.arange(xlo, 0.001, xstep)
    yt = np.arange(ylo, 0.001, ystep)
    ax.set_xticks(xt)
    ax.set_yticks(yt)
    ax.xaxis.tick_top()
    ax.yaxis.tick_right()
    ax.tick_params(axis='both', direction='in', length=8, width=1.8, color=GRAY,
                   labeltop=False, labelbottom=False, labelleft=False, labelright=False)
    for t in xt:
        ax.annotate(f'{t + 0.0:.3f}', (t, 0), xytext=(0, -35), textcoords='offset points',
                    ha='center', va='center', fontsize=23, annotation_clip=False, zorder=4,
                    path_effects=INK)
    for t in yt:
        ax.annotate(f'{t + 0.0:.3f}', (0, t), xytext=(-25, 0), textcoords='offset points',
                    ha='right', va='center', fontsize=23, annotation_clip=False, zorder=4,
                    path_effects=INK)

    ax.spines['left'].set_color('black')
    ax.spines['bottom'].set_color('black')
    ax.spines['left'].set_linewidth(2.2)
    ax.spines['bottom'].set_linewidth(2.2)
    ax.spines['top'].set_color('#7F7F7F')
    ax.spines['top'].set_linewidth(2.2)
    ax.spines['right'].set_color(GRAY)
    ax.spines['right'].set_linewidth(2.6)

    leg = ax.legend(handles=handles, loc='center left', bbox_to_anchor=(fx(2931), fy(leg_y)),
                    bbox_transform=fig.transFigure, frameon=False, fontsize=leg_fs,
                    handlelength=0.55, handletextpad=leg_pad, labelspacing=leg_space,
                    borderpad=0, borderaxespad=0)
    for txt in leg.get_texts():
        txt.set_path_effects(INK)
    return ax


def title(base, pieces):
    for x, s, fs, wt in pieces:
        fig.text(fx(x), fy(base), s, fontsize=fs, fontweight=wt, ha='left', va='baseline',
                 path_effects=INK if wt == 'normal' else None)


def name(x, y, s, fs):
    fig.text(fx(x), fy(y), s, fontsize=fs, ha='center', va='center', path_effects=INK)


# panel frames
for t, b in [(3, 1204), (1211, 2382), (2388, 3561), (3567, 4752)]:
    fig.patches.append(Rectangle((fx(3), fy(b)), fx(3086) - fx(3), (b - t) / H,
                                 transform=fig.transFigure, fill=False,
                                 edgecolor=GRAY, linewidth=2.2))

# (A)
draw_panel(138, 1102, -30, 5, -30, 5,
           [(usa_a, 'USA', 'D', ORANGE, 10.5), (china_a, 'China', 's', AQUA, 14)],
           650, 27, 0.25, 0.6)
title(77, [(1082, '(A)', 35, 'normal'), (1150, 'Population Assignment for', 29, 'bold'),
           (1673, 'USA', 26, 'normal'), (1760, '.', 9, 'normal'),
           (1775, 'vs.', 28, 'normal'), (1842, 'China', 27, 'normal')])
name(1510, 1158, 'USA', 27)
name(50, 616, 'China', 27)

# (B)
draw_panel(1341, 2288, -20, 2, -20, 2,
           [(nc_b, 'NC', 'D', RED, 10.5), (ga_b, 'GA', 's', GREEN, 15)],
           1840, 32, 0.6, 0.42)
title(1282, [(1088, '(B)', 35, 'normal'), (1154, 'Population Assignment for', 29, 'bold'),
             (1683, 'NC', 32, 'normal'), (1774, 'vs.', 28, 'normal'), (1844, 'GA', 32, 'normal')])
name(1514, 2338, 'NC', 32)
name(50, 1793, 'GA', 32)
fig.text(fx(90), fy(1812), '.', fontsize=9, ha='left', va='baseline')

# (C)
draw_panel(2520, 3465, -25, 5, -25, 5,
           [(nc_c, 'NC', 'D', RED, 10.5), (fl_c, 'FL', '^', BLUE, 15)],
           3021, 32, 0.6, 0.42)
title(2460, [(1087, '(C)', 35, 'normal'), (1152, 'Population Assignment for', 29, 'bold'),
             (1678, 'NC', 32, 'normal'), (1774, 'vs.', 28, 'normal'), (1860, 'FL', 32, 'normal')])
name(1505, 3518, 'NC', 32)
name(58, 3024, 'FL', 32)

# (D)
draw_panel(3700, 4651, -20, 2, -25, 5,
           [(ga_d, 'GA', 's', GREEN, 15), (fl_d, 'FL', '^', BLUE, 15)],
           4204, 32, 0.6, 0.42)
title(3639, [(1087, '(D)', 35, 'normal'), (1152, 'Population Assignment for', 29, 'bold'),
             (1678, 'GA', 32, 'normal'), (1774, 'vs.', 28, 'normal'), (1867, 'FL', 32, 'normal')])
name(1523, 4704, 'GA', 32)
name(53, 4231, 'FL', 32)

fig.savefig('out.png', dpi=100, facecolor='white')
